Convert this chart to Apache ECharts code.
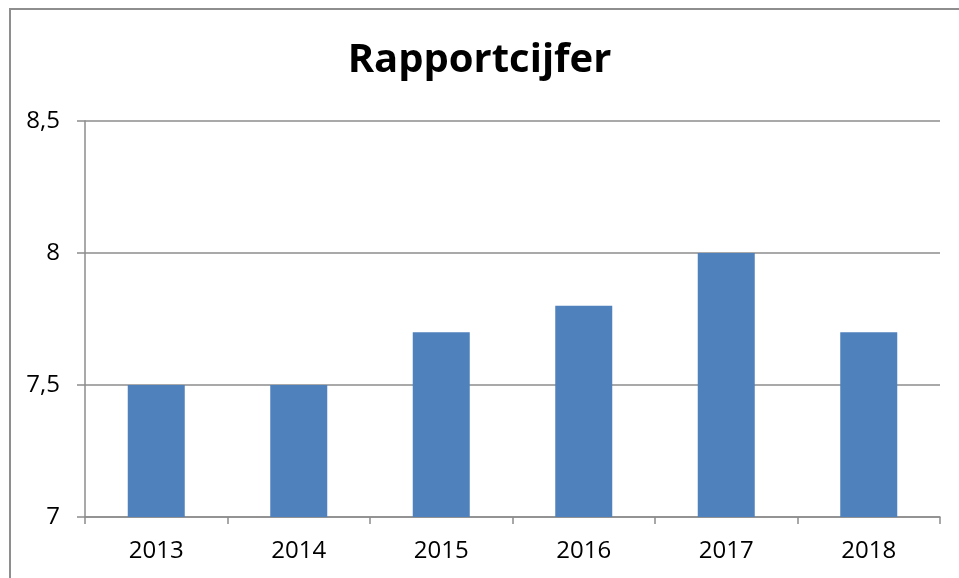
<!DOCTYPE html>
<html>
<head>
<meta charset="utf-8">
<script src="https://cdn.jsdelivr.net/npm/echarts@6/dist/echarts.min.js"></script>
<style>
  html, body { margin: 0; padding: 0; background: #fff; }
  #frame {
    position: absolute; left: 9px; top: 8px; width: 1000px; height: 620px;
    border: 2px solid #8e8e8e; box-sizing: border-box;
  }
  #chart { position: absolute; left: 0; top: 0; width: 959px; height: 578px; }
</style>
</head>
<body>
<div id="frame"></div>
<div id="chart"></div>
<script>
const years = ['2013', '2014', '2015', '2016', '2017', '2018']
const scores = [7.5, 7.5, 7.7, 7.8, 8.0, 7.7]
const yMin = 7
const yMax = 8.5
const yStep = 0.5

const chart = echarts.init(document.getElementById('chart'))
const gridColor = '#8c8c8c'
const fontFamily = "'Open Sans', 'Noto Sans', sans-serif"

chart.setOption({
  animation: false,
  title: {
    text: 'Rapportcijfer',
    left: 'center',
    top: 36,
    textStyle: {
      fontSize: 40,
      fontWeight: 'bold',
      color: '#000',
      fontFamily: fontFamily
    }
  },
  grid: {
    left: 85,
    right: 19,
    top: 121,
    bottom: 61,
    containLabel: false
  },
  xAxis: {
    type: 'category',
    data: years,
    boundaryGap: true,
    axisLine: { lineStyle: { color: gridColor, width: 1.5 } },
    axisTick: { show: true, length: 7, lineStyle: { color: gridColor, width: 1.5 } },
    axisLabel: {
      color: '#000',
      fontSize: 24,
      fontFamily: fontFamily,
      margin: 22
    }
  },
  yAxis: {
    type: 'value',
    min: yMin,
    max: yMax,
    interval: yStep,
    axisLine: { show: true, lineStyle: { color: gridColor, width: 1.5 } },
    axisTick: { show: true, length: 8, lineStyle: { color: gridColor, width: 1.5 } },
    splitLine: { lineStyle: { color: gridColor, width: 1.5 } },
    axisLabel: {
      color: '#000',
      fontSize: 24,
      fontFamily: fontFamily,
      margin: 25,
      formatter: v => String(v).replace('.', ',')
    }
  },
  series: [
    {
      type: 'bar',
      data: scores,
      barCategoryGap: '60%',
      itemStyle: { color: '#4f81bd' }
    }
  ]
})
</script>
</body>
</html>
